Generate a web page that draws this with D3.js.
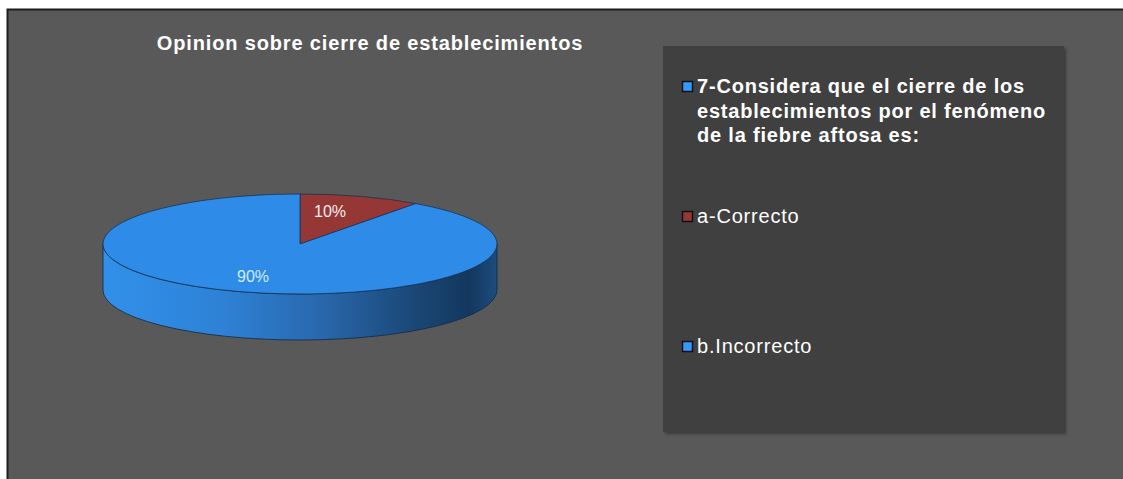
<!DOCTYPE html>
<html>
<head>
<meta charset="utf-8">
<script src="https://cdn.jsdelivr.net/npm/d3@7"></script>
<style>
  html, body { margin: 0; padding: 0; background: #fff; }
  svg { display: block; font-family: "Liberation Sans", Arial, sans-serif; }
</style>
</head>
<body>
<div id="chart"></div>
<script>
var width = 1123,
    height = 479;

// chart data
var title = "Opinion sobre cierre de establecimientos";
var legendLabels = ["7-Considera que el cierre de los establecimientos por el fenómeno de la fiebre aftosa es:", "a-Correcto", "b.Incorrecto"];
var legendColors = ["#3399ff", "#953735", "#3399ff"];
var sliceLabels = ["a-Correcto", "b.Incorrecto"];
var sliceValues = [10, 90];
var sliceColors = ["#953735", "#2f8be8"];
var labelColors = ["#f4eeee", "#cdeeff"];

var svg = d3.select("#chart").append("svg")
    .attr("width", width)
    .attr("height", height);

var defs = svg.append("defs");

// side gradient of the 3d pie
var grad = defs.append("linearGradient")
    .attr("id", "sideGrad")
    .attr("x1", "0%").attr("x2", "100%").attr("y1", "0%").attr("y2", "0%");
[[0, "#3190ea"], [0.3, "#2e82d6"], [0.55, "#2968ad"], [0.8, "#1a4674"], [0.93, "#14375e"], [1, "#1d4c7e"]]
  .forEach(function(s) {
    grad.append("stop").attr("offset", s[0]).attr("stop-color", s[1]);
  });

var shadow = defs.append("filter").attr("id", "shadow")
    .attr("x", "-5%").attr("y", "-5%").attr("width", "110%").attr("height", "110%");
shadow.append("feDropShadow")
    .attr("dx", 2).attr("dy", 2).attr("stdDeviation", 1.5)
    .attr("flood-color", "#000").attr("flood-opacity", 0.35);

// chart background
svg.append("rect")
    .attr("x", 7.5).attr("y", 9.5)
    .attr("width", width).attr("height", height)
    .attr("fill", "#595959")
    .attr("stroke", "#1e1e1e")
    .attr("stroke-width", 2);

// title
svg.append("text")
    .attr("x", 370)
    .attr("y", 50)
    .attr("text-anchor", "middle")
    .attr("fill", "#fff")
    .attr("font-weight", "bold")
    .attr("font-size", 20)
    .attr("letter-spacing", 0.85)
    .text(title);

// pie
var cx = 300, cy = 244, rx = 197, ry = 50, depth = 46;

var pie = d3.pie().sort(null).value(function(d) { return d; });
var arcs = pie(sliceValues);

function pt(a, dy) {
  return [cx + rx * Math.sin(a), cy - ry * Math.cos(a) + (dy || 0)];
}

var g = svg.append("g");

// visible side: front half of the disc (angles pi/2 .. 3pi/2)
arcs.forEach(function(d, i) {
  var a0 = Math.max(d.startAngle, Math.PI / 2),
      a1 = Math.min(d.endAngle, 3 * Math.PI / 2);
  if (a1 <= a0) return;
  var p0 = pt(a0), p1 = pt(a1), q1 = pt(a1, depth), q0 = pt(a0, depth);
  var large = (a1 - a0) > Math.PI ? 1 : 0;
  var path = "M" + p0 + " A" + rx + "," + ry + " 0 " + large + " 1 " + p1 +
             " L" + q1 + " A" + rx + "," + ry + " 0 " + large + " 0 " + q0 + " Z";
  g.append("path")
    .attr("d", path)
    .attr("fill", i === 1 ? "url(#sideGrad)" : sliceColors[i])
    .attr("stroke", "#0f2a48")
    .attr("stroke-width", 0.8);
});

// top face
var arc = d3.arc().innerRadius(0).outerRadius(rx);
g.append("g")
    .attr("transform", "translate(" + cx + "," + cy + ") scale(1," + (ry / rx) + ")")
  .selectAll("path")
  .data(arcs)
  .enter().append("path")
    .attr("d", arc)
    .attr("fill", function(d, i) { return sliceColors[i]; })
    .attr("stroke", "#143558")
    .attr("stroke-width", 0.8)
    .attr("vector-effect", "non-scaling-stroke");

// percentage labels
var total = d3.sum(sliceValues);
var labelPos = [[330, 217], [253, 282]];
g.selectAll(".pct")
  .data(arcs)
  .enter().append("text")
    .attr("class", "pct")
    .attr("x", function(d, i) { return labelPos[i][0]; })
    .attr("y", function(d, i) { return labelPos[i][1]; })
    .attr("text-anchor", "middle")
    .attr("font-size", 16)
    .attr("fill", function(d, i) { return labelColors[i]; })
    .text(function(d) { return Math.round(d.value / total * 100) + "%"; });

// legend
var lx = 663, ly = 46, lw = 401, lh = 386;
svg.append("rect")
    .attr("x", lx).attr("y", ly)
    .attr("width", lw).attr("height", lh)
    .attr("fill", "#404040")
    .attr("filter", "url(#shadow)");

var yLegend = d3.scalePoint()
    .domain(legendLabels)
    .range([93, 353]);

var item = svg.selectAll(".legend-item")
  .data(legendLabels)
  .enter().append("g")
    .attr("class", "legend-item")
    .attr("transform", function(d) { return "translate(0," + yLegend(d) + ")"; });

item.append("rect")
    .attr("x", 682.5).attr("y", -11.5)
    .attr("width", 10).attr("height", 10)
    .attr("fill", function(d, i) { return legendColors[i]; })
    .attr("stroke", "#111")
    .attr("stroke-width", 1.5);

item.append("text")
    .attr("x", 697)
    .attr("y", 0)
    .attr("fill", "#fff")
    .attr("font-size", 20)
    .attr("letter-spacing", 0.8)
    .attr("font-weight", function(d, i) { return i === 0 ? "bold" : "normal"; })
    .each(function(d) { wrap(d3.select(this), d, 360, 24.5); });

function wrap(textSel, str, maxWidth, lineHeight) {
  var words = str.split(" "), line = [];
  var tspan = textSel.append("tspan").attr("x", 697).attr("dy", 0);
  words.forEach(function(w) {
    line.push(w);
    tspan.text(line.join(" "));
    if (tspan.node().getComputedTextLength() > maxWidth && line.length > 1) {
      line.pop();
      tspan.text(line.join(" "));
      line = [w];
      tspan = textSel.append("tspan").attr("x", 697).attr("dy", lineHeight).text(w);
    }
  });
}
</script>
</body>
</html>
